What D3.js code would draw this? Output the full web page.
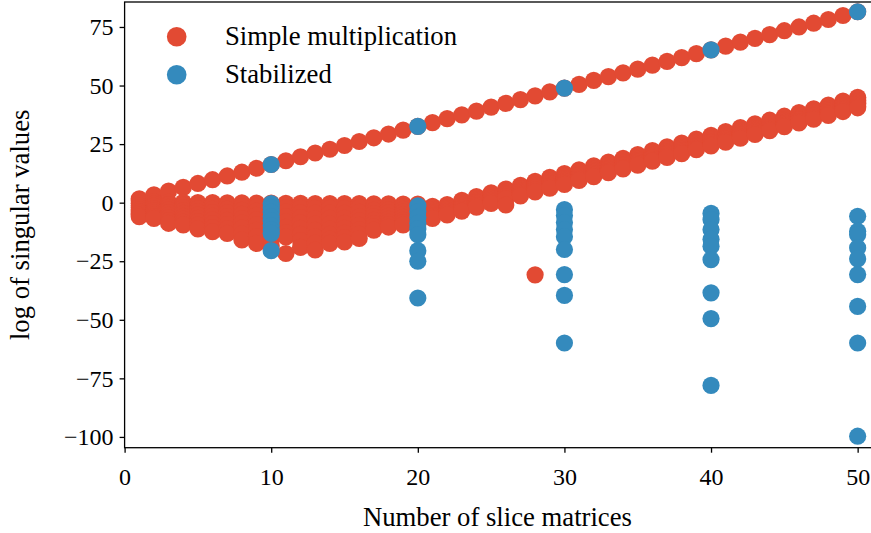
<!DOCTYPE html>
<html>
<head>
<meta charset="utf-8">
<script src="https://cdn.jsdelivr.net/npm/d3@7"></script>
<style>
  html, body { margin: 0; padding: 0; background: #ffffff; }
  svg { display: block; font-family: "Liberation Serif", "Times New Roman", serif; }
</style>
</head>
<body>
<svg id="chart" width="871" height="533"></svg>
<script>
// Number of slice matrices multiplied together
const sliceCounts = [
  1, 2, 3, 4, 5, 6, 7, 8, 9, 10,
  11, 12, 13, 14, 15, 16, 17, 18, 19, 20,
  21, 22, 23, 24, 25, 26, 27, 28, 29, 30,
  31, 32, 33, 34, 35, 36, 37, 38, 39, 40,
  41, 42, 43, 44, 45, 46, 47, 48, 49, 50
];

// log singular values of the plain product, one list per slice count
const simpleValues = [
  [1.6, 0.8, -0.3, -1.2, -2.1, -3.0, -3.9, -4.6, -5.3, -6.0],
  [3.3, 0.4, -0.6, -1.5, -2.5, -3.4, -4.3, -5.2, -6.0, -6.7],
  [4.9, 0.2, -0.8, -2.0, -3.1, -4.2, -5.3, -6.5, -7.7, -8.8],
  [6.5, 0.1, -1.0, -2.2, -3.4, -4.6, -5.8, -7.0, -8.3, -9.5],
  [8.2, 0.0, -1.2, -2.5, -3.9, -5.3, -6.7, -8.1, -9.6, -11.2],
  [9.8, 0.0, -1.3, -2.7, -4.2, -5.7, -7.3, -8.9, -10.6, -12.4],
  [11.4, -0.1, -1.4, -2.8, -4.3, -5.9, -7.6, -9.4, -11.2, -13.1],
  [13.0, -0.1, -1.7, -3.3, -5.0, -6.8, -8.7, -10.9, -13.3, -15.9],
  [14.7, -0.2, -1.9, -3.6, -5.4, -7.3, -9.4, -11.8, -14.5, -17.4],
  [16.3, -0.2, -2.0, -3.8, -5.8, -7.8, -10.0, -12.4, -15.3, -18.5],
  [17.9, -0.3, -2.1, -4.0, -6.0, -8.2, -10.5, -12.8, -14.6, -21.7],
  [19.6, -0.3, -2.3, -4.3, -6.4, -8.6, -11.0, -13.5, -16.2, -19.1],
  [21.2, -0.4, -2.4, -4.5, -6.8, -9.2, -11.8, -14.5, -17.3, -20.2],
  [22.8, -0.4, -2.4, -4.5, -6.7, -9.0, -11.3, -13.5, -15.5, -17.4],
  [24.4, -0.4, -2.4, -4.5, -6.6, -8.8, -10.9, -13.0, -14.9, -16.8],
  [26.1, -0.4, -2.2, -4.1, -6.0, -7.8, -9.7, -11.6, -13.5, -15.3],
  [27.7, -0.5, -1.9, -3.3, -4.7, -6.1, -7.5, -8.9, -10.3, -11.7],
  [29.3, -0.5, -1.8, -3.1, -4.4, -5.7, -7.0, -8.3, -9.4, -10.4],
  [31.0, -0.6, -1.7, -2.9, -4.0, -5.2, -6.3, -7.5, -8.5, -9.5],
  [32.6, -0.6, -1.8, -3.0, -4.3, -5.5, -6.6, -7.7, -8.6, -9.3],
  [34.2, -1.6, -2.3, -3.0, -3.7, -4.3, -4.9, -5.5, -6.1, -6.7],
  [35.9, -0.8, -1.4, -2.1, -2.7, -3.3, -3.9, -4.6, -5.2],
  [37.5, 1.0, 0.2, -0.5, -1.1, -1.7, -2.3, -3.0, -3.6],
  [39.1, 2.6, 1.9, 1.2, 0.6, 0.0, -0.6, -1.3, -1.9],
  [40.8, 4.2, 3.5, 2.8, 2.2, 1.6, 1.0, 0.3, -0.3],
  [42.4, 5.8, 5.1, 4.4, 3.8, 3.2, 2.5, 1.6, -1.0],
  [44.0, 7.4, 6.7, 6.0, 5.4, 4.8, 4.2, 3.5, 2.9],
  [45.6, 9.1, 8.3, 7.6, 7.0, 6.3, 5.5, 4.6, -30.8],
  [47.3, 10.8, 10.0, 9.3, 8.7, 8.1, 7.4, 6.7, 6.2],
  [48.9, 12.4, 11.6, 10.9, 10.3, 9.7, 9.1, 8.4, 7.8],
  [50.5, 14.0, 13.3, 12.6, 12.0, 11.4, 10.8, 10.1, 9.5],
  [52.2, 15.7, 15.0, 14.3, 13.7, 13.1, 12.4, 11.8, 11.1],
  [53.8, 17.3, 16.6, 15.9, 15.3, 14.7, 14.1, 13.4, 12.8],
  [55.4, 18.9, 18.2, 17.5, 16.9, 16.3, 15.7, 15.0, 14.4],
  [57.0, 20.5, 19.8, 19.1, 18.5, 17.9, 17.3, 16.7, 16.0],
  [58.7, 22.2, 21.5, 20.8, 20.2, 19.6, 19.0, 18.3, 17.7],
  [60.3, 23.8, 23.1, 22.4, 21.8, 21.2, 20.6, 19.9, 19.3],
  [61.9, 25.4, 24.7, 24.0, 23.4, 22.8, 22.2, 21.5, 20.9],
  [63.6, 27.1, 26.4, 25.7, 25.1, 24.5, 23.9, 23.2, 22.6],
  [65.2, 28.7, 28.0, 27.3, 26.7, 26.1, 25.5, 24.8, 24.2],
  [66.8, 30.3, 29.6, 28.9, 28.3, 27.7, 27.1, 26.4, 25.8],
  [68.5, 32.0, 31.3, 30.6, 30.0, 29.4, 28.8, 28.1, 27.5],
  [70.1, 33.6, 32.9, 32.2, 31.6, 31.0, 30.4, 29.7, 29.1],
  [71.7, 35.2, 34.5, 33.8, 33.2, 32.6, 32.0, 31.3, 30.7],
  [73.4, 36.9, 36.2, 35.5, 34.9, 34.3, 33.7, 33.0, 32.4],
  [75.0, 38.5, 37.8, 37.1, 36.5, 35.9, 35.3, 34.6, 34.0],
  [76.6, 40.1, 39.4, 38.7, 38.1, 37.5, 36.9, 36.2, 35.6],
  [78.2, 41.7, 41.0, 40.3, 39.7, 39.1, 38.5, 37.8, 37.2],
  [79.9, 43.4, 42.7, 42.0, 41.4, 40.8, 40.2, 39.5, 38.9],
  [81.5, 45.0, 44.3, 43.6, 43.0, 42.4, 41.8, 41.1, 40.5]
];

// Slice counts at which the stabilized product was evaluated
const stabilizedCounts = [10, 20, 30, 40, 50];

// log singular values of the stabilized product
const stabilizedValues = [
  [16.3, -0.4, -2.2, -4.0, -5.9, -7.8, -9.8, -11.5, -13.1, -20.5],
  [32.6, -1.4, -3.8, -6.3, -8.8, -11.2, -13.7, -20.5, -25.0, -40.7],
  [48.9, -3.0, -5.5, -8.5, -11.5, -14.5, -20.0, -30.7, -39.6, -59.9],
  [65.2, -4.6, -7.3, -11.5, -15.6, -18.6, -24.3, -38.5, -49.5, -78.0],
  [81.5, -5.8, -12.2, -13.7, -19.3, -24.0, -30.7, -44.3, -59.9, -99.7]
];

const xTicks = [0, 10, 20, 30, 40, 50];
const yTicks = [-100, -75, -50, -25, 0, 25, 50, 75];
const seriesNames = ["Simple multiplication", "Stabilized"];
const seriesColors = ["#E24A33", "#348ABD"];

const svg = d3.select("#chart");
const plot = { left: 124.6, right: 872.3, top: 2, bottom: 447.7 };

const x = d3.scaleLinear().domain([0, 51]).range([plot.left, plot.right]);
const y = d3.scaleLinear().domain([-104.6, 85.66]).range([plot.bottom, plot.top]);

const markerR = 8.6;

// flatten each series into (count, value) pairs
function pairs(counts, values) {
  const out = [];
  counts.forEach((n, i) => values[i].forEach(v => out.push({ n, v })));
  return out;
}

const layers = [pairs(sliceCounts, simpleValues), pairs(stabilizedCounts, stabilizedValues)];

layers.forEach((pts, k) => {
  svg.append("g")
    .selectAll("circle")
    .data(pts)
    .join("circle")
    .attr("cx", d => x(d.n))
    .attr("cy", d => y(d.v))
    .attr("r", markerR)
    .attr("fill", seriesColors[k]);
});

// axes frame
svg.append("rect")
  .attr("x", plot.left).attr("y", plot.top)
  .attr("width", plot.right - plot.left).attr("height", plot.bottom - plot.top)
  .attr("fill", "none").attr("stroke", "#000").attr("stroke-width", 1.3);

const xAxis = svg.append("g")
  .attr("transform", `translate(0,${plot.bottom})`)
  .call(d3.axisBottom(x).tickValues(xTicks).tickSize(5).tickPadding(15).tickFormat(d3.format("d")));

const yAxis = svg.append("g")
  .attr("transform", `translate(${plot.left},0)`)
  .call(d3.axisLeft(y).tickValues(yTicks).tickSize(5).tickPadding(6).tickFormat(d3.format("d")));

[xAxis, yAxis].forEach(g => {
  g.attr("font-family", null);
  g.select(".domain").remove();
  g.selectAll(".tick line").attr("stroke", "#000").attr("stroke-width", 1.3);
  g.selectAll(".tick text")
    .attr("fill", "#000")
    .style("font-family", '"Liberation Serif", "Times New Roman", serif')
    .style("font-size", "24px");
});

// axis titles
svg.append("text")
  .attr("x", (plot.left + 872.3) / 2 - 1)
  .attr("y", 526)
  .attr("text-anchor", "middle")
  .style("font-size", "26.7px")
  .text("Number of slice matrices");

svg.append("text")
  .attr("transform", `translate(29,${(plot.top + plot.bottom) / 2}) rotate(-90)`)
  .attr("text-anchor", "middle")
  .style("font-size", "26.7px")
  .text("log of singular values");

// legend
const legend = svg.append("g");
seriesNames.forEach((name, i) => {
  const cy = 36.7 + i * 38;
  legend.append("circle")
    .attr("cx", 176.7).attr("cy", cy).attr("r", 9.8)
    .attr("fill", seriesColors[i]);
  legend.append("text")
    .attr("x", 225).attr("y", cy + 8.5)
    .style("font-size", "26.7px")
    .text(name);
});
</script>
</body>
</html>
